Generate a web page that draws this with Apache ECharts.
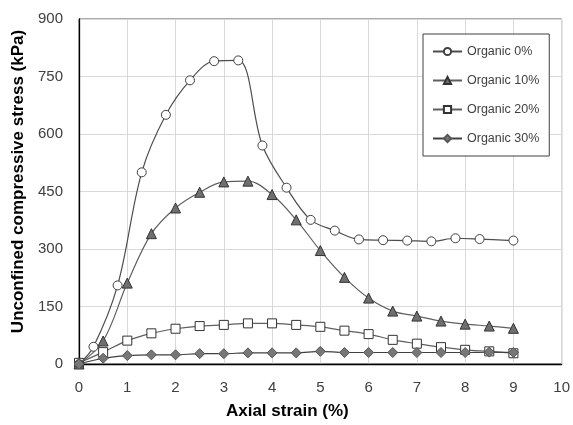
<!DOCTYPE html>
<html>
<head>
<meta charset="utf-8">
<script src="https://cdn.jsdelivr.net/npm/echarts@6/dist/echarts.min.js"></script>
<style>
html,body{margin:0;padding:0;background:#fff;}
#chart{width:573px;height:425px;}
</style>
</head>
<body>
<div id="chart"></div>
<script>
// Axial strain (%) and stress (kPa) for each series
var strain0 = [0, 0.3, 0.8, 1.3, 1.8, 2.3, 2.8, 3.3, 3.8, 4.3, 4.8, 5.3, 5.8, 6.3, 6.8, 7.3, 7.8, 8.3, 9.0];
var stress0 = [0, 45, 205, 500, 650, 740, 790, 792, 570, 460, 376, 348, 325, 323, 322, 320, 328, 326, 322];

var strainStd = [0, 0.5, 1, 1.5, 2, 2.5, 3, 3.5, 4, 4.5, 5, 5.5, 6, 6.5, 7, 7.5, 8, 8.5, 9];
var stress10 = [0, 60, 211, 340, 407, 448, 475, 477, 442, 376, 296, 226, 172, 138, 125, 112, 104, 99, 93];
var stress20 = [3, 31, 61, 80, 92, 99, 102, 106, 106, 102, 97, 87, 78, 63, 53, 44, 37, 33, 28];
var stress30 = [0, 15, 22, 24, 24, 27, 27, 29, 29, 29, 33, 30, 30, 30, 30, 30, 30, 31, 30];

var seriesNames = ['Organic 0%', 'Organic 10%', 'Organic 20%', 'Organic 30%'];
var xTicks = [0, 1, 2, 3, 4, 5, 6, 7, 8, 9, 10];
var yTicks = [0, 150, 300, 450, 600, 750, 900];

function pairs(xs, ys) {
  return xs.map(function (x, i) { return [x, ys[i]]; });
}

var chart = echarts.init(document.getElementById('chart'), null, {renderer: 'canvas'});
var font = 'Liberation Sans';
var option = {
  animation: false,
  backgroundColor: '#ffffff',
  grid: {
    left: 79, right: 10, top: 19, bottom: 56,
    show: true, borderColor: '#595959', borderWidth: 1
  },
  legend: {
    orient: 'vertical',
    left: 423, top: 34,
    padding: [11, 10, 11, 9],
    itemWidth: 29, itemHeight: 9, itemGap: 16,
    borderColor: '#404040', borderWidth: 1,
    backgroundColor: '#ffffff',
    textStyle: {fontFamily: font, fontSize: 12.5, color: '#404040'},
    data: seriesNames
  },
  xAxis: {
    type: 'value', min: xTicks[0], max: xTicks[xTicks.length - 1], interval: 1,
    name: 'Axial strain (%)', nameLocation: 'middle', nameGap: 39,
    nameTextStyle: {fontFamily: font, fontSize: 17, fontWeight: 'bold', color: '#000', padding: [0, 66, 0, 0]},
    axisLine: {show: true, lineStyle: {color: '#000', width: 1.3}},
    axisTick: {show: false},
    axisLabel: {fontFamily: font, fontSize: 15, color: '#404040', margin: 16},
    splitLine: {show: true, lineStyle: {color: '#d9d9d9', width: 1}}
  },
  yAxis: {
    type: 'value', min: yTicks[0], max: yTicks[yTicks.length - 1], interval: 150,
    name: 'Unconfined compressive stress (kPa)', nameLocation: 'middle', nameGap: 50,
    nameTextStyle: {fontFamily: font, fontSize: 17, fontWeight: 'bold', color: '#000', padding: [0, 0, 0, 20]},
    axisLine: {show: true, lineStyle: {color: '#000', width: 1.3}},
    axisTick: {show: false},
    axisLabel: {fontFamily: font, fontSize: 15, color: '#404040', margin: 16},
    splitLine: {show: true, lineStyle: {color: '#d9d9d9', width: 1}}
  },
  series: [
    {
      name: seriesNames[0], type: 'line', smooth: 0.35,
      data: pairs(strain0, stress0),
      symbol: 'circle', symbolSize: 9,
      lineStyle: {color: '#4d4d4d', width: 1.2},
      itemStyle: {color: '#ffffff', borderColor: '#404040', borderWidth: 1},
      z: 5
    },
    {
      name: seriesNames[1], type: 'line', smooth: 0.35,
      data: pairs(strainStd, stress10),
      symbol: 'triangle', symbolSize: 10,
      lineStyle: {color: '#5f5f5f', width: 1.2},
      itemStyle: {color: '#6f6f6f', borderColor: '#333333', borderWidth: 1},
      z: 4
    },
    {
      name: seriesNames[2], type: 'line', smooth: 0.35,
      data: pairs(strainStd, stress20),
      symbol: 'rect', symbolSize: 9,
      lineStyle: {color: '#5f5f5f', width: 1.2},
      itemStyle: {color: '#ffffff', borderColor: '#333333', borderWidth: 1},
      z: 3
    },
    {
      name: seriesNames[3], type: 'line', smooth: 0.35,
      data: pairs(strainStd, stress30),
      symbol: 'diamond', symbolSize: 10,
      lineStyle: {color: '#404040', width: 1.2},
      itemStyle: {color: '#777777', borderColor: '#555555', borderWidth: 1},
      z: 6
    }
  ]
};
chart.setOption(option);
</script>
</body>
</html>
